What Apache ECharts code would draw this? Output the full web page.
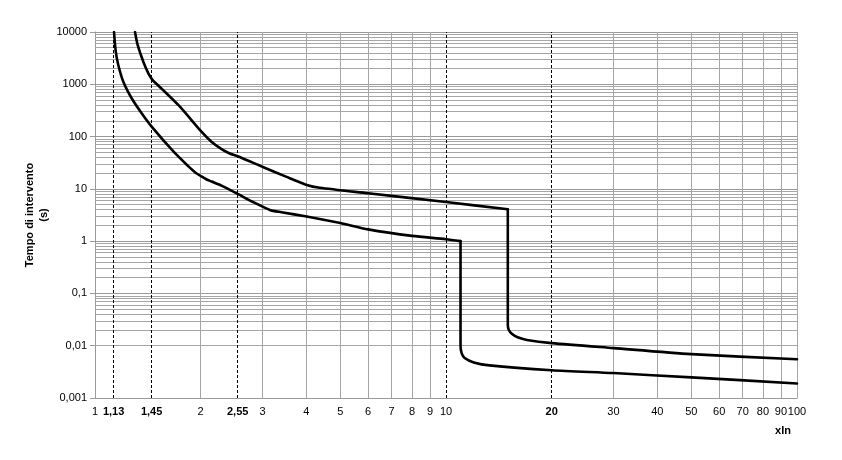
<!DOCTYPE html>
<html>
<head>
<meta charset="utf-8">
<script src="https://cdn.jsdelivr.net/npm/echarts@6/dist/echarts.min.js"></script>
<style>
html,body{margin:0;padding:0;background:#fff;}
#c{width:842px;height:460px;}
</style>
</head>
<body>
<div id="c"></div>
<script>
// Lower (minimum) tripping curve: multiples of In and time in seconds
const minX = [1.133, 1.146, 1.165, 1.204, 1.272, 1.358, 1.45, 1.69, 1.85, 1.93, 2.01, 2.08, 2.15, 2.30, 2.55, 2.8, 3.15, 3.4, 4.01, 5.0, 6.0, 8.0, 10.0, 11.0, 11.0, 11.08, 11.3, 12.0, 13.3, 20, 30, 50, 100];
const minT = [10000, 4200, 2340, 1120, 540, 279, 155, 48, 26.6, 20.6, 17.3, 15.1, 13.8, 11.4, 8.0, 5.74, 3.95, 3.57, 2.95, 2.22, 1.68, 1.26, 1.09, 1.0, 0.01, 0.0072, 0.0058, 0.0048, 0.0042, 0.0034, 0.003, 0.00248, 0.0019];
// index ranges of the smooth pieces (sharp corners between them)
const minPieces = [[0, 23], [23, 32]];
// Upper (maximum) tripping curve
const maxX = [1.30, 1.323, 1.373, 1.419, 1.457, 1.727, 2.01, 2.15, 2.30, 2.42, 2.55, 3.02, 3.5, 4.01, 4.37, 6.0, 10.0, 15.0, 15.0, 15.1, 15.4, 16.0, 17.0, 20, 30, 50, 100];
const maxT = [10000, 5650, 2700, 1620, 1210, 402, 124, 78.9, 57, 47.5, 42, 25.9, 17.1, 11.9, 10.5, 8.24, 5.6, 4.07, 0.025, 0.02, 0.017, 0.0145, 0.0129, 0.0112, 0.009, 0.0069, 0.0055];
const maxPieces = [[0, 4], [4, 17], [17, 26]];
// Axis labels
const xTickValues = [1, 1.13, 1.45, 2, 2.55, 3, 4, 5, 6, 7, 8, 9, 10, 20, 30, 40, 50, 60, 70, 80, 90, 100];
const xBoldTicks = [1.13, 1.45, 2.55, 20];
const dashedX = [1.13, 1.45, 2.55, 10, 20];
const minorGridX = [2, 3, 4, 5, 6, 7, 8, 9, 30, 40, 50, 60, 70, 80, 90, 100];
const yDecades = [0.001, 0.01, 0.1, 1, 10, 100, 1000];
const yMultipliers = [2, 3, 4, 5, 6, 7, 8, 9];

const fmt = v => String(v).replace('.', ',');
const isBold = v => xBoldTicks.some(b => Math.abs(b - v) < 1e-9);

const gridLines = [];
minorGridX.forEach(x => gridLines.push({xAxis: x}));
yDecades.forEach(d => yMultipliers.forEach(m => gridLines.push({yAxis: +(d * m).toPrecision(6)})));

function pieceSeries(xs, ts, pieces, name) {
  return pieces.map(([a, b], k) => ({
    type: 'line', name: name + k, z: 5, showSymbol: false, symbol: 'none',
    smooth: 0.25, silent: true,
    data: xs.slice(a, b + 1).map((x, i) => [x, ts[a + i]]),
    lineStyle: {color: '#000', width: 2.6, join: 'round', cap: 'round'}
  }));
}

const chart = echarts.init(document.getElementById('c'), null, {renderer: 'canvas'});
const FONT = 'Liberation Sans';
chart.setOption({
  animation: false,
  backgroundColor: '#fff',
  grid: {left: 95, right: 45, top: 32, bottom: 62, containLabel: false},
  xAxis: {
    type: 'log', logBase: 10, min: 1, max: 100,
    name: 'xIn',
    nameLocation: 'end',
    nameGap: -6,
    nameMoveOverlap: false,
    nameTextStyle: {fontFamily: FONT, fontSize: 11, fontWeight: 'bold', color: '#000', align: 'right', verticalAlign: 'top', padding: [27, 0, 0, 0]},
    axisLine: {show: true, lineStyle: {color: '#9a9a9a', width: 1}},
    axisTick: {show: false},
    splitLine: {show: false},
    minorTick: {show: false},
    axisLabel: {
      customValues: xTickValues,
      margin: 8,
      fontFamily: FONT, fontSize: 11, color: '#000',
      formatter: v => isBold(v) ? '{b|' + fmt(v) + '}' : fmt(v),
      rich: {b: {fontFamily: FONT, fontSize: 11, fontWeight: 'bold', color: '#000'}}
    }
  },
  yAxis: {
    type: 'log', logBase: 10, min: 0.001, max: 10000,
    name: 'Tempo di intervento\n(s)',
    nameLocation: 'middle',
    nameGap: 44,
    nameMoveOverlap: false,
    nameTextStyle: {fontFamily: FONT, fontSize: 11, fontWeight: 'bold', color: '#000', lineHeight: 14},
    axisLine: {show: true, lineStyle: {color: '#9a9a9a', width: 1}},
    axisTick: {show: true, length: 5, inside: false, lineStyle: {color: '#9a9a9a'}},
    splitLine: {show: true, lineStyle: {color: '#9a9a9a', width: 1}},
    axisLabel: {
      margin: 8,
      fontFamily: FONT, fontSize: 11, color: '#000',
      formatter: v => fmt(v)
    }
  },
  series: [
    {
      type: 'line', name: 'grid', data: [], z: 1, silent: true,
      markLine: {
        silent: true, animation: false, symbol: ['none', 'none'],
        label: {show: false},
        lineStyle: {color: '#a6a6a6', width: 1, type: 'solid'},
        emphasis: {disabled: true},
        data: gridLines
      }
    },
    {
      type: 'line', name: 'dashed', data: [], z: 2, silent: true,
      markLine: {
        silent: true, animation: false, symbol: ['none', 'none'],
        label: {show: false},
        lineStyle: {color: '#000', width: 1, type: [3, 2]},
        emphasis: {disabled: true},
        data: dashedX.map(x => ({xAxis: x}))
      }
    }
  ].concat(pieceSeries(minX, minT, minPieces, 'min'), pieceSeries(maxX, maxT, maxPieces, 'max'))
});
</script>
</body>
</html>
